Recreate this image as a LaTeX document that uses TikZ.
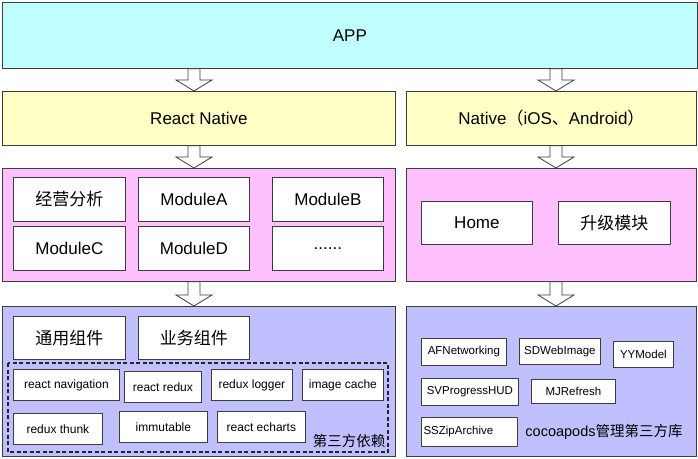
\documentclass[tikz,border=0pt]{standalone}
\usepackage{fontspec}
\setmainfont{Liberation Sans}
\newfontfamily\cjk{Noto Sans CJK SC}
\usetikzlibrary{calc}
\definecolor{cyanfill}{RGB}{192,255,255}
\definecolor{yellowfill}{RGB}{255,255,198}
\definecolor{pinkfill}{RGB}{255,192,255}
\definecolor{bluefill}{RGB}{192,192,255}
\definecolor{edge}{RGB}{60,60,60}
\tikzset{
  layer/.style={draw=edge, line width=0.8pt, anchor=north west, inner sep=0pt, font=\fontsize{17}{20}\selectfont},
  bigbox/.style={draw=edge, line width=0.8pt, fill=white, anchor=north west, inner sep=0pt, font=\fontsize{17}{20}\selectfont},
  smallbox/.style={draw=edge, line width=0.8pt, fill=white, anchor=north west, inner sep=0pt, font=\fontsize{12}{14}\selectfont},
  podbox/.style={smallbox, font=\fontsize{11.5}{14}\selectfont},
  arrowline/.style={draw=edge, line width=0.8pt, fill=white},
  dashbox/.style={draw=black!85, line width=1.1pt, dash pattern=on 4pt off 2.5pt},
  note/.style={inner sep=0pt, font=\fontsize{14.5}{17}\selectfont}
}
\newcommand\hollowarrow[2]{%
  \path[arrowline] let \p1=#1, \p2=#2 in
    (\x1-6pt,\y1) -- (\x1-6pt,\y2+11pt) -- (\x1-18pt,\y2+11pt) -- (\x1,\y2)
    -- (\x1+18pt,\y2+11pt) -- (\x1+6pt,\y2+11pt) -- (\x1+6pt,\y1) -- cycle;}
\begin{document}
\begin{tikzpicture}[x=1pt,y=-1pt]
\useasboundingbox (0,0) rectangle (698,458);
% layers
\node[layer, fill=cyanfill, minimum width=695, minimum height=66] (app) at (2,2) {APP};
\node[layer, fill=yellowfill, minimum width=393, minimum height=54] (rn) at (2,91) {React Native};
\node[layer, fill=yellowfill, minimum width=290, minimum height=54] (nat) at (406,91) {Native{\cjk （}iOS{\cjk 、}Android{\cjk ）}};
\node[layer, fill=pinkfill, minimum width=393, minimum height=113] (pl) at (2,168) {};
\node[layer, fill=pinkfill, minimum width=290, minimum height=113] (pr) at (406,168) {};
\node[layer, fill=bluefill, minimum width=393, minimum height=150] (bl) at (2,306) {};
\node[layer, fill=bluefill, minimum width=290, minimum height=150] (br) at (406,306) {};
% arrow columns
\coordinate (cl) at (194,0);
\coordinate (cr) at (556,0);
\hollowarrow{(app.south -| cl)}{(rn.north -| cl)}
\hollowarrow{(app.south -| cr)}{(nat.north -| cr)}
\hollowarrow{(rn.south -| cl)}{(pl.north -| cl)}
\hollowarrow{(nat.south -| cr)}{(pr.north -| cr)}
\hollowarrow{(pl.south -| cl)}{(bl.north -| cl)}
\hollowarrow{(pr.south -| cr)}{(br.north -| cr)}
% modules
\node[bigbox, minimum width=112, minimum height=44] (m1) at (13,177) {\cjk 经营分析};
\node[bigbox, minimum width=111, minimum height=44] (m2) at (138,177) {ModuleA};
\node[bigbox, minimum width=111, minimum height=44] (m3) at (272,177) {ModuleB};
\node[bigbox, minimum width=112, minimum height=44] (m4) at (13,226) {ModuleC};
\node[bigbox, minimum width=111, minimum height=44] (m5) at (138,226) {ModuleD};
\node[bigbox, minimum width=111, minimum height=44] (m6) at (272,226) {......};
\node[bigbox, minimum width=111, minimum height=43] (home) at (421,201) {Home};
\node[bigbox, minimum width=112, minimum height=43] (up) at (558,201) {\cjk 升级模块};
% RN components
\node[bigbox, minimum width=112, minimum height=43] (ty) at (13,316) {\cjk 通用组件};
\node[bigbox, minimum width=111, minimum height=43] (yw) at (138,316) {\cjk 业务组件};
\draw[dashbox] (8,363) rectangle (388,452);
\node[smallbox, minimum width=106, minimum height=31] (d1) at (13,369) {react navigation};
\node[smallbox, minimum width=77, minimum height=31] (d2) at (124,371) {react redux};
\node[smallbox, minimum width=81, minimum height=31] (d3) at (211,369) {redux logger};
\node[smallbox, minimum width=81, minimum height=31] (d4) at (302,369) {image cache};
\node[smallbox, minimum width=89, minimum height=31] (d5) at (13,413) {redux thunk};
\node[smallbox, minimum width=88, minimum height=31] (d6) at (119,411) {immutable};
\node[smallbox, minimum width=88, minimum height=31] (d7) at (217,411) {react echarts};
\node[note, anchor=center] (dl) at (349,441) {\cjk 第三方依赖};
% native pods
\node[podbox, minimum width=85, minimum height=27] (p1) at (421,338) {AFNetworking};
\node[podbox, minimum width=81, minimum height=26] (p2) at (519,338) {SDWebImage};
\node[podbox, minimum width=60, minimum height=26] (p3) at (613,341) {YYModel};
\node[podbox, minimum width=97, minimum height=27] (p4) at (421,378) {SVProgressHUD};
\node[podbox, minimum width=84, minimum height=24] (p5) at (531,379) {MJRefresh};
\node[podbox, minimum width=96, minimum height=29] (p6) at (421,417) {\raisebox{2pt}{SSZipArchive}\kern22pt};
\node[note, anchor=center] (pl2) at (604,432) {cocoapods{\cjk 管理第三方库}};
\end{tikzpicture}
\end{document}
